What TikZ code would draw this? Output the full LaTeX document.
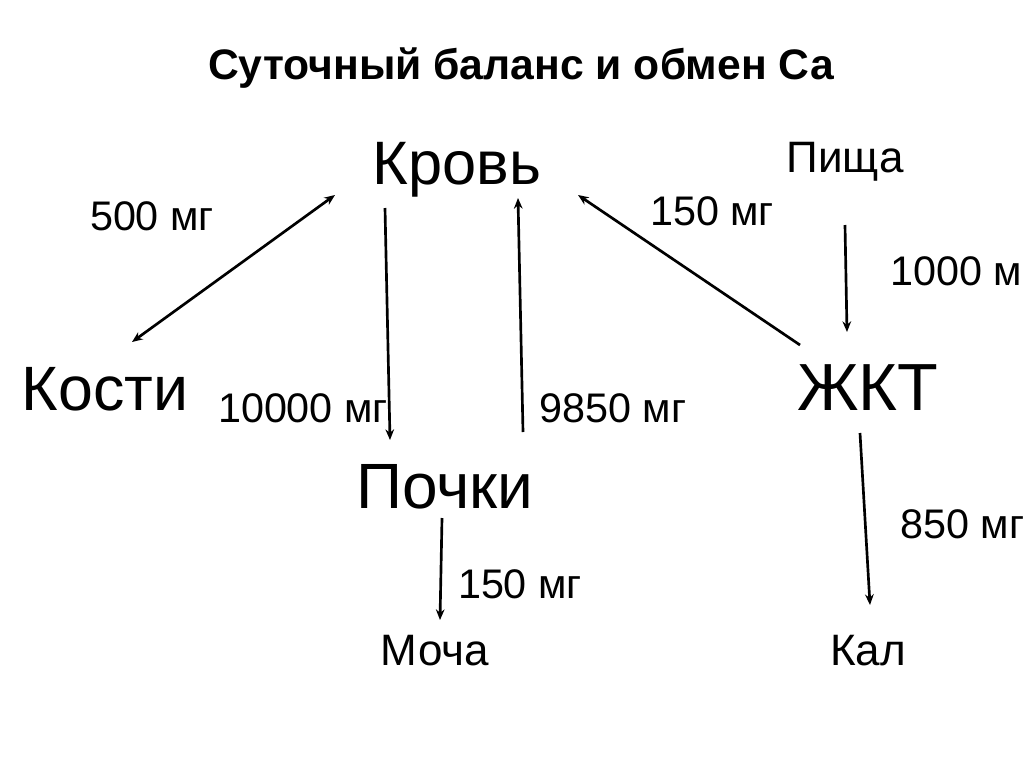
\documentclass[tikz,border=0pt]{standalone}
\usepackage{fontspec}
\setmainfont{Liberation Sans}
\usetikzlibrary{arrows.meta}
\begin{document}
\begin{tikzpicture}[x=0.75pt,y=-0.75pt,
  organ/.style={inner sep=0pt,anchor=base,font=\fontsize{46}{50}\selectfont},
  endnode/.style={inner sep=0pt,anchor=base,font=\fontsize{33}{38}\selectfont},
  amount/.style={inner sep=0pt,anchor=base,font=\fontsize{31}{36}\selectfont},
  flow/.style={line width=2pt,-{Stealth[length=8pt,width=6.5pt]}}]
\useasboundingbox (0,0) rectangle (1024,768);
\node[inner sep=0pt,anchor=base,font=\fontsize{32}{36}\selectfont\bfseries] (title) at (521,79) {Суточный баланс и обмен Са};
% organs
\node[organ,font=\fontsize{46}{50}\selectfont] (krov) at (457,184) {Кровь};
\node[organ,font=\fontsize{47}{50}\selectfont] (kosti) at (105,410) {Кости};
\node[organ,font=\fontsize{50}{54}\selectfont] (zhkt) at (868,410) {ЖКТ};
\node[organ,font=\fontsize{48}{50}\selectfont] (pochki) at (445,508) {Почки};
% in and out
\node[endnode] (pishcha) at (845,172) {Пища};
\node[endnode] (mocha) at (435,665) {Моча};
\node[endnode] (kal) at (868,665) {Кал};
% amounts
\node[amount] (m500) at (152,230) {500 мг};
\node[amount] (m150a) at (712,225) {150 мг};
\node[amount,anchor=base west] (m1000) at (890,285) {1000 м};
\node[amount] (m10000) at (303,422) {10000 мг};
\node[amount] (m9850) at (613,422) {9850 мг};
\node[amount,anchor=base west] (m850) at (900,538) {850 мг};
\node[amount] (m150b) at (520,598) {150 мг};
% connectors
\draw[flow,{Stealth[length=8pt,width=6.5pt]}-{Stealth[length=8pt,width=6.5pt]}]
  ([shift={(27,-68)}]kosti.base) -- ([shift={(-122,11)}]krov.base);
\draw[flow] ([shift={(-72,24)}]krov.base) -- ([shift={(-55,-68)}]pochki.base);
\draw[flow] ([shift={(78,-76)}]pochki.base) -- ([shift={(61,14)}]krov.base);
\draw[flow] ([shift={(-68,-65)}]zhkt.base) -- ([shift={(121,11)}]krov.base);
\draw[flow] ([shift={(0,53)}]pishcha.base) -- ([shift={(-21,-78)}]zhkt.base);
\draw[flow] ([shift={(-8,23)}]zhkt.base) -- ([shift={(2,-60)}]kal.base);
\draw[flow] ([shift={(-3,10)}]pochki.base) -- ([shift={(5,-45)}]mocha.base);
\end{tikzpicture}
\end{document}
